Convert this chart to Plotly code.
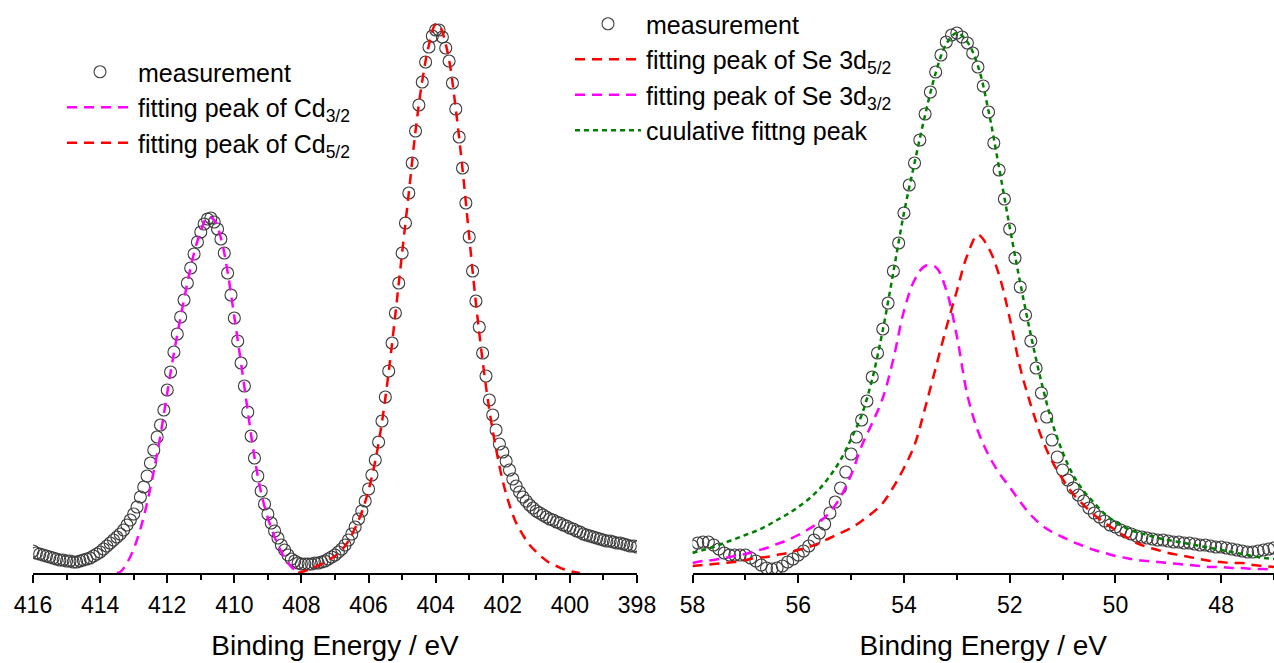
import numpy as np
import plotly.graph_objects as go

# ---------------- Cd 3d region (left panel) ----------------
cd_start, cd_step = 416.0, 0.1
cd_counts = [
    22, 20, 19, 18, 17, 16, 15, 14, 13, 13,
    12, 12, 11, 11, 12, 13, 14, 15, 17, 19,
    21, 24, 27, 30, 33, 36, 39, 43, 48, 53,
    59, 66, 76, 86, 97, 110, 123, 136, 148, 163,
    183, 201, 221, 239, 256, 273, 290, 305, 319, 331,
    341, 349, 354, 355, 351, 344, 334, 320, 300, 278,
    255, 232, 210, 187, 161, 137, 115, 97, 82, 69,
    59, 50, 42, 35, 28, 23, 18, 14, 12, 10,
    9, 9, 9, 9, 10, 10, 11, 12, 14, 16,
    18, 21, 24, 28, 33, 39, 46, 54, 62, 72,
    84, 98, 113, 131, 152, 176, 202, 230, 260, 290,
    320, 350, 380, 410, 442, 468, 491, 511, 526, 537,
    543, 543, 536, 525, 512, 490, 464, 436, 405, 370,
    336, 302, 272, 246, 220, 197, 173, 158, 143, 129,
    121, 112, 103, 94, 87, 81, 76, 72, 68, 65,
    62, 60, 58, 56, 54, 53, 51, 50, 48, 47,
    45, 44, 42, 41, 39, 38, 37, 36, 35, 34,
    33, 32, 32, 31, 30, 30, 29, 28, 27, 27,
    26,
]
cd_be = np.round(cd_start - cd_step * np.arange(len(cd_counts)), 1)

cd32_be = [413.5, 413.4, 413.2, 413.0, 412.8, 412.6, 412.4, 412.2, 412.0, 411.8,
           411.6, 411.4, 411.2, 411.0, 410.8, 410.6, 410.4, 410.2, 410.0, 409.8,
           409.6, 409.4, 409.2, 409.0, 408.8, 408.6, 408.4, 408.2, 408.0]
cd32_fit = [0, 1, 10, 24, 44, 70, 102, 138, 180, 220,
            256, 290, 320, 342, 356, 353, 335, 301, 256, 210,
            162, 116, 80, 55, 36, 21, 10, 3, 0]

cd52_be = [408.1, 408.0, 407.8, 407.6, 407.4, 407.2, 407.0, 406.8, 406.6, 406.4,
           406.2, 406.0, 405.8, 405.6, 405.4, 405.2, 405.0, 404.8, 404.6, 404.4,
           404.2, 404.0, 403.9, 403.8, 403.6, 403.4, 403.2, 403.0, 402.8, 402.6,
           402.4, 402.2, 402.0, 401.8, 401.6, 401.4, 401.2, 401.0, 400.8, 400.6,
           400.4, 400.2, 400.0, 399.8, 399.7]
cd52_fit = [0, 1, 3, 6, 9, 13, 17, 23, 32, 45,
            61, 83, 112, 151, 201, 259, 320, 380, 442, 492,
            528, 549, 548, 541, 513, 464, 404, 336, 270, 212,
            163, 124, 92, 68, 50, 38, 28, 21, 15, 10,
            7, 4, 2, 0.5, 0]

# ---------------- Se 3d region (right panel) ----------------
se_start, se_step = 58.0, 0.1
se_counts = [
    27, 30, 31, 31, 28, 24, 20, 18, 18, 18,
    18, 15, 12, 8, 5, 4, 5, 7, 11, 14,
    18, 22, 27, 33, 40, 49, 60, 71, 85, 101,
    119, 136, 153, 172, 196, 220, 244, 270, 302, 330,
    360, 388, 410, 433, 459, 481, 501, 518, 531, 538,
    540, 536, 530, 520, 506, 487, 461, 430, 403, 374,
    344, 315, 286, 258, 232, 205, 180, 156, 133, 116,
    103, 93, 85, 78, 72, 65, 60, 56, 52, 48,
    46, 43, 41, 39, 37, 36, 35, 34, 33, 33,
    32, 31, 31, 30, 30, 29, 28, 28, 27, 26,
    26, 25, 24, 23, 22, 21, 21, 22, 23, 24,
    25,
]
se_be = np.round(se_start - se_step * np.arange(len(se_counts)), 1)

se_fit_be = [58.0, 57.8, 57.6, 57.4, 57.2, 57.0, 56.8, 56.6, 56.4, 56.2,
             56.0, 55.8, 55.6, 55.4, 55.2, 55.0, 54.8, 54.6, 54.4, 54.2,
             54.0, 53.8, 53.6, 53.4, 53.2, 53.0, 52.8, 52.6, 52.4, 52.2,
             52.0, 51.8, 51.6, 51.4, 51.2, 51.0, 50.8, 50.6, 50.4, 50.2,
             50.0, 49.8, 49.6, 49.4, 49.2, 49.0, 48.8, 48.6, 48.4, 48.2,
             48.0, 47.8, 47.6, 47.4, 47.2, 47.0]
se52_fit = [7, 8, 9, 10, 11, 13, 15, 16, 18, 20,
            23, 26, 30, 35, 40, 45, 52, 60, 70, 86,
            105, 128, 165, 205, 245, 282, 318, 338, 325, 298,
            255, 205, 168, 136, 112, 94, 79, 68, 58, 50,
            43, 36, 30, 26, 23, 20, 18, 16, 14, 12,
            11, 10, 10, 8, 7, 6]
se32_fit = [10, 12, 13, 15, 17, 19, 22, 25, 29, 33,
            38, 44, 51, 61, 76, 98, 127, 150, 175, 214,
            262, 293, 307, 306, 283, 237, 178, 142, 118, 100,
            86, 71, 58, 48, 41, 36, 31, 27, 23, 20,
            17, 15, 13, 12, 11, 10, 9, 8, 7, 6,
            6, 5, 5, 4, 4, 3]
se_sum_fit = [20, 23, 26, 30, 34, 38, 42, 47, 53, 59,
              66, 74, 84, 97, 113, 134, 158, 194, 243, 301,
              360, 410, 458, 500, 529, 540, 531, 507, 462, 405,
              346, 290, 238, 191, 151, 121, 98, 82, 70, 59,
              51, 45, 41, 38, 35, 33, 31, 29, 27, 25,
              23, 21, 19, 17, 15, 14]

# ---------------- styling ----------------
FONT = "Liberation Sans, Arial, sans-serif"
RED = "#ff0000"
MAGENTA = "#ff00ff"
GREEN = "#008000"
CIRCLE = "#3c3c3c"
DASH = "10px,7px"
DOT = "5px,4px"

marker_style = dict(symbol="circle-open", size=12, color=CIRCLE, line=dict(width=1.1, color=CIRCLE))

fig = go.Figure()

# left panel
fig.add_trace(go.Scatter(x=cd_be, y=cd_counts, mode="markers", marker=marker_style,
                         name="measurement", xaxis="x", yaxis="y", legend="legend"))
fig.add_trace(go.Scatter(x=cd32_be, y=cd32_fit, mode="lines",
                         line=dict(color=MAGENTA, width=2.5, dash=DASH, shape="spline"),
                         name="fitting peak of Cd<sub>3/2</sub>", xaxis="x", yaxis="y", legend="legend"))
fig.add_trace(go.Scatter(x=cd52_be, y=cd52_fit, mode="lines",
                         line=dict(color=RED, width=2.5, dash=DASH, shape="spline"),
                         name="fitting peak of Cd<sub>5/2</sub>", xaxis="x", yaxis="y", legend="legend"))

# right panel
fig.add_trace(go.Scatter(x=se_be, y=se_counts, mode="markers", marker=marker_style,
                         name="measurement", xaxis="x2", yaxis="y2", legend="legend2"))
fig.add_trace(go.Scatter(x=se_fit_be, y=se52_fit, mode="lines",
                         line=dict(color=RED, width=2.5, dash=DASH, shape="spline"),
                         name="fitting peak of Se 3d<sub>5/2</sub>", xaxis="x2", yaxis="y2", legend="legend2"))
fig.add_trace(go.Scatter(x=se_fit_be, y=se32_fit, mode="lines",
                         line=dict(color=MAGENTA, width=2.5, dash=DASH, shape="spline"),
                         name="fitting peak of Se 3d<sub>3/2</sub>", xaxis="x2", yaxis="y2", legend="legend2"))
fig.add_trace(go.Scatter(x=se_fit_be, y=se_sum_fit, mode="lines",
                         line=dict(color=GREEN, width=2.5, dash=DOT, shape="spline"),
                         name="cuulative fittng peak", xaxis="x2", yaxis="y2", legend="legend2"))

W, H = 1274, 663

xaxis_common = dict(
    showline=True, linecolor="black", linewidth=1.5,
    ticks="outside", ticklen=8, tickwidth=1.5, tickcolor="black",
    dtick=2, tick0=0, ticklabelstandoff=3,
    minor=dict(dtick=1, ticks="outside", ticklen=5, tickwidth=1.5, tickcolor="black", showgrid=False),
    showgrid=False, zeroline=False, automargin=False,
    tickfont=dict(family=FONT, size=23, color="black"),
    title=dict(text="Binding Energy / eV", font=dict(family=FONT, size=28, color="black"), standoff=18),
    autorange=False,
)

legend_common = dict(
    font=dict(family=FONT, size=25, color="black"),
    bgcolor="rgba(0,0,0,0)", borderwidth=0,
    xanchor="left", yanchor="top", itemwidth=66,
    itemclick=False, itemdoubleclick=False,
)

fig.update_layout(
    width=W, height=H,
    margin=dict(l=0, r=0, t=0, b=90, autoexpand=False),
    paper_bgcolor="white", plot_bgcolor="white",
    font=dict(family=FONT, color="black"),
    xaxis=dict(domain=[33 / W, 637 / W], range=[416, 398], anchor="y", **xaxis_common),
    yaxis=dict(domain=[0, 1], range=[0, 573], visible=False, fixedrange=True),
    xaxis2=dict(domain=[692.5 / W, 1.0], range=[58, 47], anchor="y2", **xaxis_common),
    yaxis2=dict(domain=[0, 1], range=[0, 573], visible=False, anchor="x2", fixedrange=True),
    legend=dict(x=62 / W, y=1 - 49 / 573, **legend_common),
    legend2=dict(x=570 / W, y=1 - 1 / 573, **legend_common),
    showlegend=True,
)

fig.write_html("out.html")
